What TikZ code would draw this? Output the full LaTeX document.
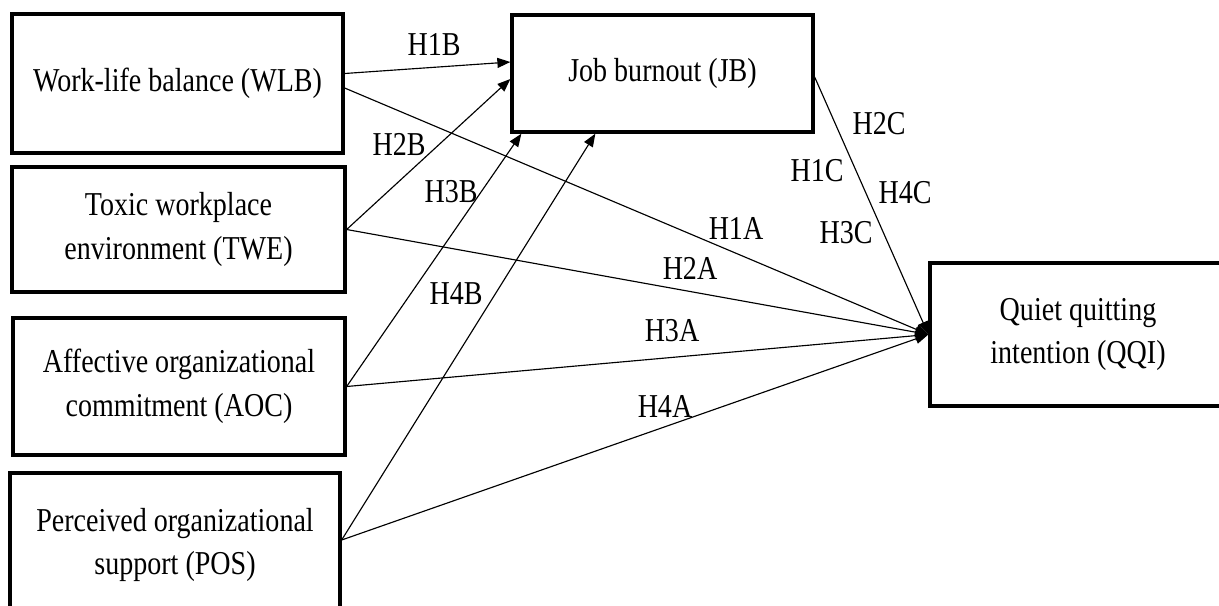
\documentclass[tikz,border=0pt]{standalone}
\usepackage{fontspec}
\setmainfont[FakeStretch=0.84]{Liberation Serif}
\usepackage{tikz}
\usetikzlibrary{arrows.meta}

\tikzset{
	box/.style={draw, line width=1.9pt, align=center, inner sep=0pt, font=\fontsize{19}{25}\selectfont},
	hyp/.style={inner sep=0pt, font=\fontsize{19}{25}\selectfont},
	arr/.style={line width=0.65pt, -{Triangle[length=0.26cm, width=0.2cm]}}
}

\begin{document}
\begin{tikzpicture}[x=0.02cm, y=-0.02cm]
	\useasboundingbox (0,0) rectangle (1219,605);
	\node (WLB) at (177.5, 83.5) [box, minimum width=6.62cm, minimum height=2.78cm] {Work-life balance (WLB)};
	\node (TWE) at (178.5, 229.5) [box, minimum width=6.66cm, minimum height=2.5cm] {Toxic workplace\\environment (TWE)};
	\node (AOC) at (179, 386.5) [box, minimum width=6.64cm, minimum height=2.74cm] {Affective organizational\\commitment (AOC)};
	\node (POS) at (175, 545) [box, minimum width=6.6cm, minimum height=2.88cm] {Perceived organizational\\support (POS)};
		\node (JB) at (662.5, 73.5) [box, minimum width=6.02cm, minimum height=2.34cm] {Job burnout (JB)};
			\node (QQI) at (1078, 334.5) [box, minimum width=5.92cm, minimum height=2.86cm] {Quiet quitting\\intention (QQI)};
	% paths to JB
	\draw[arr] ([yshift=0.2cm]WLB.east) to ([yshift=0.23cm]JB.west);
	\draw[arr] (TWE.east) to ([yshift=-0.11cm]JB.west);
	\draw[arr] (AOC.east) to ([xshift=0.22cm]JB.south west);
	\draw[arr] ([yshift=0.1cm]POS.east) to ([xshift=1.7cm]JB.south west);
	% paths to QQI
	\draw[arr] ([yshift=-0.09cm]WLB.east) to (QQI.west);
	\draw[arr] (TWE.east) to (QQI.west);
	\draw[arr] (AOC.east) to (QQI.west);
	\draw[arr] ([yshift=0.1cm]POS.east) to (QQI.west);
	\draw[arr] ([yshift=-0.07cm]JB.east) to (QQI.west);
	% hypothesis labels
	\node (h1b) at (434, 45) [hyp] {H1B};
	\node (h2b) at (399, 144) [hyp] {H2B};
	\node (h3b) at (451, 192) [hyp] {H3B};
	\node (h4b) at (456, 294) [hyp] {H4B};
	\node (h1a) at (736, 228) [hyp] {H1A};
	\node (h2a) at (690, 268) [hyp] {H2A};
	\node (h3a) at (672, 331) [hyp] {H3A};
	\node (h4a) at (665, 406) [hyp] {H4A};
	\node (h2c) at (879, 124) [hyp] {H2C};
	\node (h1c) at (817, 171) [hyp] {H1C};
	\node (h4c) at (905, 193) [hyp] {H4C};
	\node (h3c) at (846, 233) [hyp] {H3C};
\end{tikzpicture}
\end{document}
